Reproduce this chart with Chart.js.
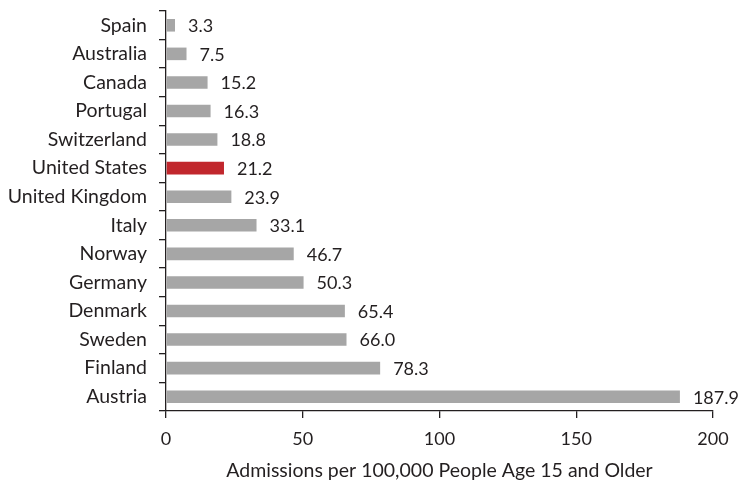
<!DOCTYPE html>
<html><head><meta charset="utf-8">
<script src="https://cdn.jsdelivr.net/npm/chart.js@4"></script>
<style>html,body{margin:0;padding:0;background:#fff}#w{width:742px;height:482px}</style>
</head><body><div id="w"><canvas id="c"></canvas></div>
<script>
const categories = ["Spain","Australia","Canada","Portugal","Switzerland","United States","United Kingdom","Italy","Norway","Germany","Denmark","Sweden","Finland","Austria"];
const values = [3.3,7.5,15.2,16.3,18.8,21.2,23.9,33.1,46.7,50.3,65.4,66.0,78.3,187.9];
const highlight = "United States";
const xTicks = [0,50,100,150,200];
const xTitle = "Admissions per 100,000 People Age 15 and Older";
const FONT = "Lato, 'Open Sans', sans-serif";
const TXT = "#231f20";

const labelPlugin = {
  id: 'vals',
  afterDatasetsDraw(chart) {
    const ctx = chart.ctx;
    const meta = chart.getDatasetMeta(0);
    ctx.save();
    ctx.font = "18px " + FONT;
    ctx.fillStyle = TXT;
    ctx.textBaseline = 'middle';
    ctx.textAlign = 'left';
    meta.data.forEach((bar, i) => {
      ctx.fillText(values[i].toFixed(1), bar.x + 13, bar.y + 1);
    });
    ctx.restore();
  }
};

new Chart(document.getElementById('c'), {
  type: 'bar',
  data: {
    labels: categories,
    datasets: [{
      data: values,
      backgroundColor: categories.map(c => c === highlight ? '#c1272d' : '#a6a6a6'),
      barPercentage: 0.44,
      categoryPercentage: 1.0
    }]
  },
  options: {
    indexAxis: 'y',
    responsive: true,
    maintainAspectRatio: false,
    animation: false,
    layout: { padding: { top: 11, right: 29, left: 0, bottom: 0 } },
    plugins: { legend: { display: false }, tooltip: { enabled: false } },
    scales: {
      x: {
        min: 0, max: 200,
        afterBuildTicks(s) { s.ticks = xTicks.map(v => ({ value: v })); },
        afterFit(s) { s.height = 71; },
        border: { display: true, color: '#231f20', width: 1.3 },
        grid: { drawOnChartArea: false, drawTicks: true, tickLength: 7, color: '#231f20', lineWidth: 1.3 },
        ticks: { color: TXT, font: { size: 18, family: FONT }, padding: 10, maxRotation: 0 },
        title: { display: true, text: xTitle, color: TXT, font: { size: 19.5, family: FONT }, padding: { top: 2, bottom: 0 } }
      },
      y: {
        afterFit(s) { s.width = 166; s.paddingTop = 0; s.paddingBottom = 0; },
        border: { display: true, color: '#231f20', width: 1.3 },
        grid: { drawOnChartArea: false, drawTicks: true, tickLength: 7, offset: true, color: '#231f20', lineWidth: 1.3 },
        ticks: { color: TXT, font: { size: 19.5, family: FONT }, padding: 12 }
      }
    }
  },
  plugins: [labelPlugin]
});
</script>
</body></html>
